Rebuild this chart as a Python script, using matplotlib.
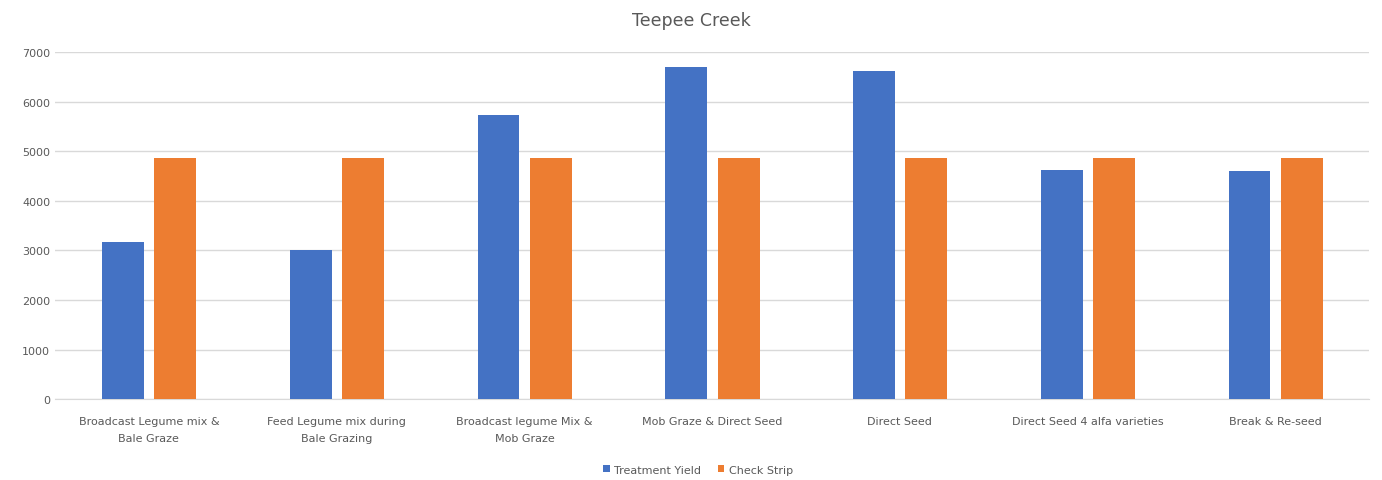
import numpy as np
import matplotlib.pyplot as plt

categories = ['Broadcast Legume mix &\nBale Graze', 'Feed Legume mix during\nBale Grazing',
              'Broadcast legume Mix &\nMob Graze', 'Mob Graze & Direct Seed', 'Direct Seed',
              'Direct Seed 4 alfa varieties', 'Break & Re-seed']
treatment = [3170, 3000, 5720, 6700, 6610, 4620, 4600]
check = [4870, 4870, 4870, 4870, 4870, 4870, 4870]

grey = '#595959'
fig = plt.figure(figsize=(13.82, 4.81), dpi=100)
ax = fig.add_axes([0.0398, 0.168, 0.951, 0.722])

x = np.arange(len(categories))
w = 0.223
ax.bar(x - 0.138, treatment, w, color='#4472C4', label='Treatment Yield', zorder=3)
ax.bar(x + 0.141, check, w, color='#ED7D31', label='Check Strip', zorder=3)

ax.set_xlim(-0.5, len(categories) - 0.5)
ax.set_ylim(0, 7000)
ax.set_yticks(range(0, 7001, 1000))
ax.yaxis.grid(True, color='#d9d9d9', linewidth=1, zorder=0)
for s in ['top', 'right', 'left']:
    ax.spines[s].set_visible(False)
ax.spines['bottom'].set_color('#d9d9d9')
ax.tick_params(length=0, colors=grey, labelsize=8)
ax.tick_params(axis='x', pad=12)
ax.set_xticks(x)
ax.set_xticklabels(categories, linespacing=1.9)

fig.suptitle('Teepee Creek', y=0.975, fontsize=12.5, color=grey)
fig.legend(loc='lower center', bbox_to_anchor=(0.505, -0.01), ncol=2, frameon=False,
           fontsize=8, labelcolor=grey, handlelength=0.6, handleheight=0.6,
           handletextpad=0.4, columnspacing=1.5)

fig.savefig('out.png', dpi=100)
